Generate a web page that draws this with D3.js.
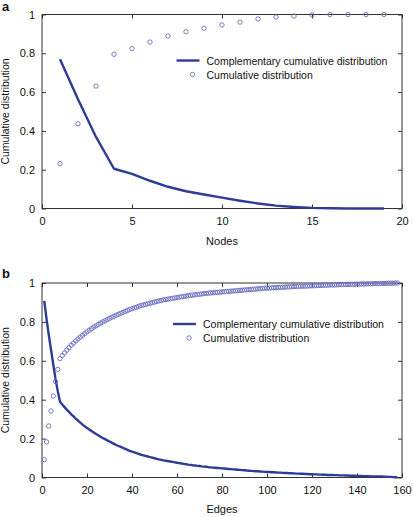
<!DOCTYPE html>
<html><head><meta charset="utf-8">
<script src="https://cdn.jsdelivr.net/npm/d3@7"></script>
<style>body{margin:0;background:#fff}svg{display:block}text{font-family:Arial,"Liberation Sans",sans-serif;fill:#111}</style>
</head><body><svg id="c" width="413" height="517"></svg>
<script>
// ---------- Panel a: Nodes ----------
const nodeX = [1,2,3,4,5,6,7,8,9,10,11,12,13,14,15,16,17,18,19];
const nodeCdf = [0.231,0.437,0.631,0.795,0.824,0.858,0.889,0.911,0.929,0.946,0.961,0.977,0.987,0.992,0.998,1,1,1,1];
const nodeCcdf = [0.769,0.563,0.369,0.205,0.178,0.143,0.112,0.089,0.072,0.056,0.040,0.026,0.015,0.008,0.003,0.001,0,0,0];
const nodeXTicks = [0,5,10,15,20];
const yTicks = [0,0.2,0.4,0.6,0.8,1];

// ---------- Panel b: Edges ----------
const edgeCcdf = [
0.908,0.817,0.735,0.658,0.581,0.507,0.444,0.389,0.375,0.362,
0.349,0.337,0.325,0.314,0.303,0.293,0.282,0.272,0.263,0.255,
0.247,0.239,0.231,0.224,0.217,0.210,0.203,0.197,0.191,0.185,
0.179,0.173,0.167,0.162,0.157,0.152,0.147,0.142,0.137,0.133,
0.129,0.125,0.121,0.117,0.114,0.111,0.108,0.105,0.102,0.099,
0.096,0.093,0.091,0.088,0.086,0.084,0.082,0.080,0.078,0.076,
0.074,0.072,0.070,0.068,0.066,0.065,0.063,0.062,0.060,0.059,
0.057,0.056,0.055,0.053,0.052,0.051,0.050,0.049,0.048,0.047,
0.046,0.045,0.044,0.043,0.042,0.041,0.040,0.039,0.038,0.037,
0.036,0.035,0.034,0.033,0.032,0.032,0.031,0.030,0.029,0.029,
0.028,0.027,0.027,0.026,0.025,0.025,0.024,0.023,0.023,0.022,
0.022,0.021,0.020,0.020,0.019,0.019,0.018,0.018,0.017,0.017,
0.016,0.016,0.015,0.015,0.014,0.014,0.013,0.013,0.013,0.012,
0.012,0.011,0.011,0.011,0.010,0.010,0.009,0.009,0.009,0.008,
0.008,0.008,0.007,0.007,0.007,0.006,0.006,0.006,0.005,0.005,
0.005,0.004,0.004,0.003,0.003,0.002,0.001,0.000];
const edgeCdf = [
0.092,0.183,0.265,0.342,0.419,0.493,0.556,0.611,0.627,0.641,
0.655,0.668,0.680,0.691,0.702,0.712,0.722,0.731,0.740,0.749,
0.757,0.765,0.773,0.780,0.787,0.794,0.800,0.806,0.812,0.818,
0.824,0.829,0.834,0.839,0.844,0.849,0.854,0.859,0.864,0.868,
0.872,0.876,0.880,0.884,0.887,0.890,0.893,0.896,0.899,0.902,
0.905,0.908,0.910,0.913,0.915,0.917,0.919,0.921,0.923,0.925,
0.927,0.929,0.931,0.933,0.935,0.936,0.938,0.939,0.941,0.942,
0.944,0.945,0.946,0.948,0.949,0.950,0.951,0.952,0.953,0.954,
0.955,0.956,0.957,0.958,0.959,0.960,0.961,0.962,0.963,0.964,
0.965,0.966,0.967,0.968,0.969,0.970,0.971,0.972,0.973,0.974,
0.974,0.975,0.976,0.976,0.977,0.978,0.978,0.979,0.980,0.980,
0.981,0.982,0.982,0.983,0.983,0.984,0.984,0.985,0.985,0.986,
0.986,0.987,0.987,0.988,0.988,0.989,0.989,0.990,0.990,0.990,
0.991,0.991,0.992,0.992,0.992,0.993,0.993,0.993,0.994,0.994,
0.994,0.995,0.995,0.995,0.996,0.996,0.996,0.997,0.997,0.997,
0.998,0.998,0.998,0.999,0.999,0.999,1.000,1.000];
const edgeXTicks = [0,20,40,60,80,100,120,140,160];

const legendLabels = ["Complementary cumulative distribution","Cumulative distribution"];
const lineColor = "#2f3c97";
const dotColor = "#6a6fc0";

const svg = d3.select("#c");

function panel(cfg){
  const {left,right,top,bottom,xDomain,xTicks,xs,cdf,ccdf,xlabel,tag,tagY,legY,legX} = cfg;
  const x = d3.scaleLinear().domain(xDomain).range([left,right]);
  const y = d3.scaleLinear().domain([0,1]).range([bottom,top]);
  const g = svg.append("g");
  const tl = 4;
  g.append("rect").attr("x",left).attr("y",top).attr("width",right-left).attr("height",bottom-top)
    .attr("fill","none").attr("stroke","#333").attr("stroke-width",1);
  const xb = g.append("g").attr("transform",`translate(0,${bottom})`)
    .call(d3.axisBottom(x).tickValues(xTicks).tickSizeInner(-tl).tickSizeOuter(0).tickPadding(9).tickFormat(d=>d));
  const xt = g.append("g").attr("transform",`translate(0,${top})`)
    .call(d3.axisTop(x).tickValues(xTicks).tickSizeInner(-tl).tickSizeOuter(0).tickFormat(""));
  const yl = g.append("g").attr("transform",`translate(${left},0)`)
    .call(d3.axisLeft(y).tickValues(yTicks).tickSizeInner(-tl).tickSizeOuter(0).tickPadding(7).tickFormat(d=>d===0||d===1?String(d):d.toFixed(1)));
  const yr = g.append("g").attr("transform",`translate(${right},0)`)
    .call(d3.axisRight(y).tickValues(yTicks).tickSizeInner(-tl).tickSizeOuter(0).tickFormat(""));
  [xb,xt,yl,yr].forEach(a=>{
    a.select(".domain").remove();
    a.selectAll("line").attr("stroke","#333");
    a.selectAll("text").attr("font-size",11).attr("fill","#111").style("font-family","Arial, 'Liberation Sans', sans-serif");
  });
  g.append("path").datum(xs.map((d,i)=>[d,ccdf[i]]))
    .attr("fill","none").attr("stroke",lineColor).attr("stroke-width",2.4).attr("stroke-linejoin","round")
    .attr("d",d3.line().x(d=>x(d[0])).y(d=>y(d[1])));
  g.selectAll("circle.cd").data(xs.map((d,i)=>[d,cdf[i]])).join("circle")
    .attr("cx",d=>x(d[0])).attr("cy",d=>y(d[1])).attr("r",2.2)
    .attr("fill","none").attr("stroke",dotColor).attr("stroke-width",0.9);
  g.append("text").attr("x",(left+right)/2).attr("y",xlabel.y).attr("text-anchor","middle")
    .attr("font-size",11).text(xlabel.t);
  g.append("text").attr("transform",`translate(9,${(top+bottom)/2}) rotate(-90)`).attr("text-anchor","middle")
    .attr("font-size",10.5).text("Cumulative distribution");
  g.append("text").attr("x",2).attr("y",tagY).attr("font-size",13).attr("font-weight","bold").text(tag);
  g.append("line").attr("x1",legX).attr("x2",legX+23).attr("y1",legY).attr("y2",legY)
    .attr("stroke",lineColor).attr("stroke-width",2.4);
  g.append("circle").attr("cx",legX+16).attr("cy",legY+14).attr("r",2.2)
    .attr("fill","none").attr("stroke",dotColor).attr("stroke-width",0.9);
  legendLabels.forEach((t,i)=>{
    g.append("text").attr("x",legX+30).attr("y",legY+4+i*14).attr("font-size",10.5).text(t);
  });
}

panel({left:42,right:402,top:14.5,bottom:208.5,xDomain:[0,20],xTicks:nodeXTicks,xs:nodeX,
  cdf:nodeCdf,ccdf:nodeCcdf,xlabel:{t:"Nodes",y:245},tag:"a",tagY:11,legY:60.5,legX:176.5});

const edgeX = edgeCdf.map((d,i)=>i+1);
panel({left:42,right:402,top:283,bottom:477.5,xDomain:[0,160],xTicks:edgeXTicks,xs:edgeX,
  cdf:edgeCdf,ccdf:edgeCcdf,xlabel:{t:"Edges",y:513},tag:"b",tagY:278,legY:324,legX:173});
</script></body></html>
